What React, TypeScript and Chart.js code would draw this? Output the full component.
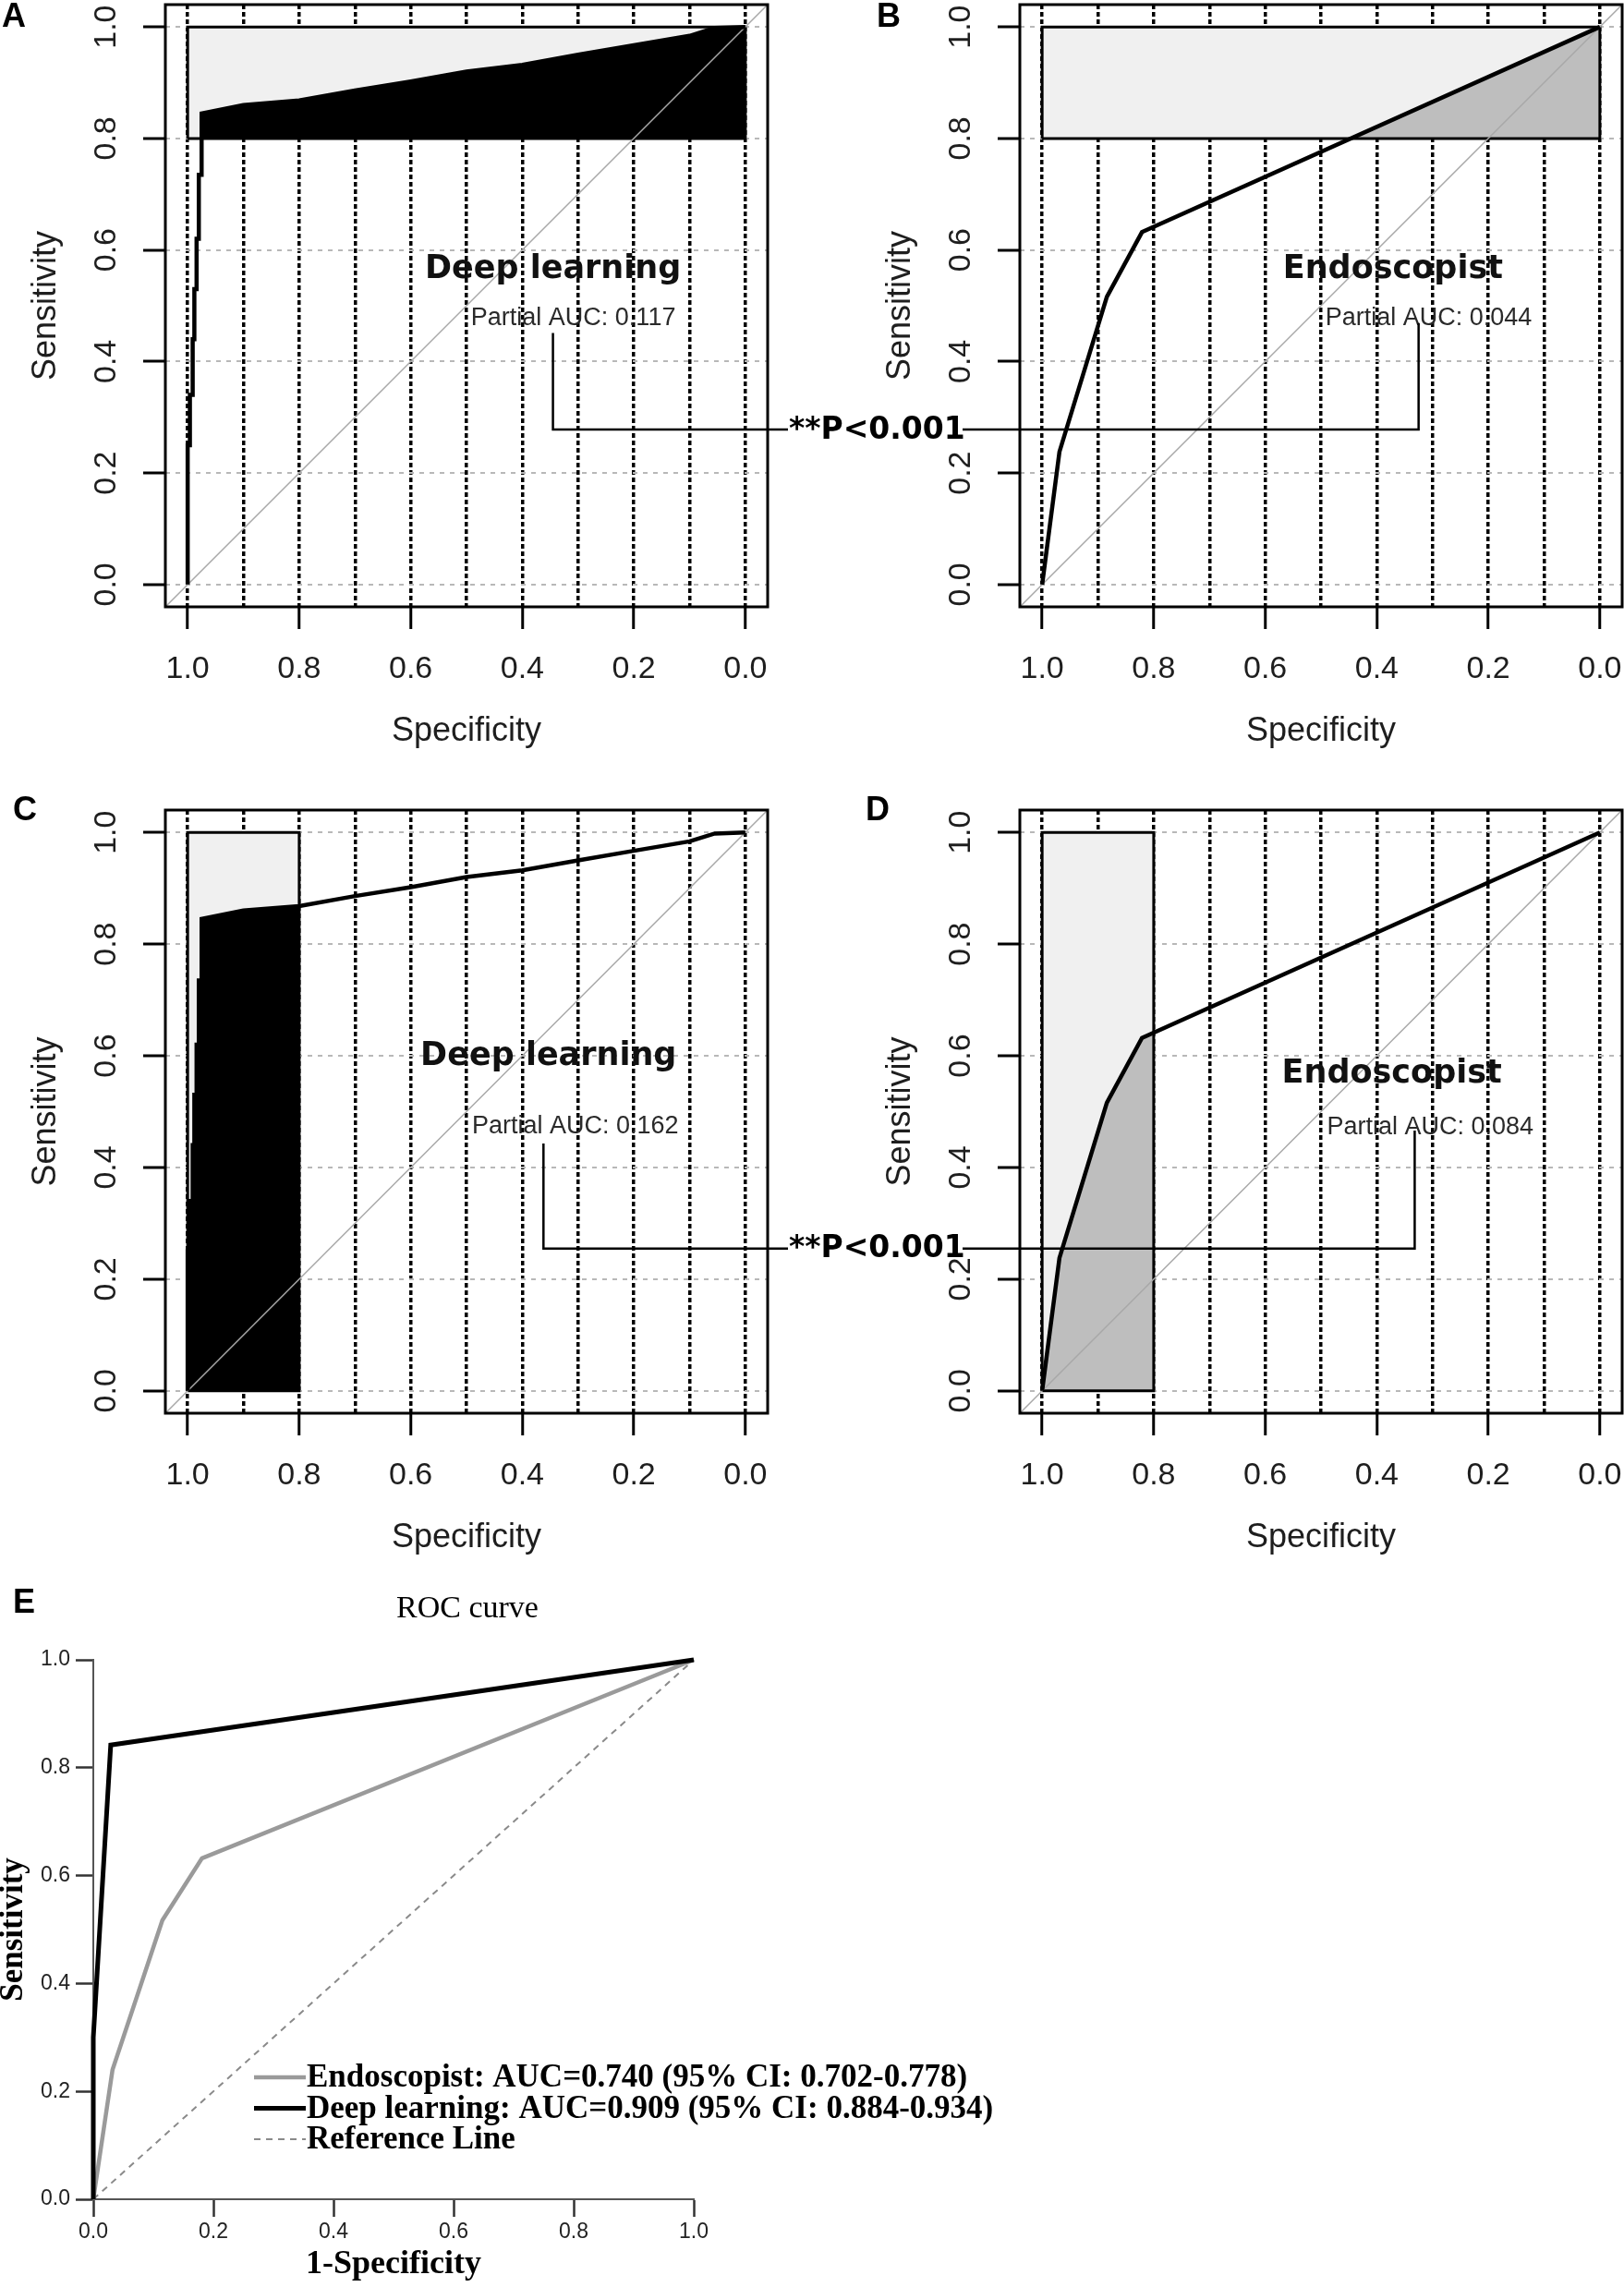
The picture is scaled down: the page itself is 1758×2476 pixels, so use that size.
import React, { useEffect, useRef } from 'react';
import { Chart, registerables } from 'chart.js';

Chart.register(...registerables);
Chart.defaults.font.family = '"Liberation Sans", Arial, sans-serif';

// ---------------- data (panels A-D, pROC style, x = specificity) ----------------
const SPEC_GRID = [1.0, 0.9, 0.8, 0.7, 0.6, 0.5, 0.4, 0.3, 0.2, 0.1, 0.0];
const SENS_TICKS = [0.0, 0.2, 0.4, 0.6, 0.8, 1.0];
const AXIS_LIMITS = [-0.04, 1.04];

const DL_SPEC = [1.0, 1.0, 0.996, 0.996, 0.991, 0.991, 0.988, 0.988, 0.984, 0.984, 0.98, 0.98, 0.975, 0.975, 0.9, 0.8, 0.7, 0.6, 0.5, 0.4, 0.3, 0.2, 0.1, 0.055, 0.0];
const DL_SENS = [0.0, 0.25, 0.25, 0.34, 0.34, 0.44, 0.44, 0.53, 0.53, 0.62, 0.62, 0.735, 0.735, 0.845, 0.86, 0.868, 0.886, 0.902, 0.92, 0.932, 0.95, 0.967, 0.984, 0.998, 1.0];
const ENDO_SPEC = [1.0, 0.969, 0.884, 0.821, 0.0];
const ENDO_SENS = [0.0, 0.238, 0.516, 0.632, 1.0];

const PAUC_RANGE = [0.8, 1.0];
const DL_SPEC_AT_SENS_LO = 0.975;
const ENDO_SPEC_AT_SENS_LO = 0.445;
const DL_SENS_AT_SPEC_LO = 0.868;
const ENDO_SENS_AT_SPEC_LO = 0.64;

const PARTIAL_AUC = ['0.117', '0.044', '0.162', '0.084'];
const CURVE_NAMES = ['Deep learning', 'Endoscopist'];
const P_VALUE = '**P<0.001';

// ---------------- data (panel E, x = 1 - specificity) ----------------
const E_TICKS = [0.0, 0.2, 0.4, 0.6, 0.8, 1.0];
const E_DL_FPR = [0.0, 0.0, 0.029, 1.0];
const E_DL_TPR = [0.0, 0.30, 0.842, 1.0];
const E_ENDO_FPR = [0.0, 0.032, 0.115, 0.181, 1.0];
const E_ENDO_TPR = [0.0, 0.240, 0.517, 0.632, 1.0];
const E_REF = [0.0, 1.0];
const E_LABELS = [
  'Deep learning: AUC=0.909 (95% CI: 0.884-0.934)',
  'Endoscopist: AUC=0.740 (95% CI: 0.702-0.778)',
  'Reference Line',
];
const E_LEGEND_ORDER = [1, 0, 2];

// ---------------- helpers ----------------
const pts = (xs: number[], ys: number[]) => xs.map((x, i) => ({ x, y: ys[i] }));
const isLabeled = (v: number) => Math.abs(Math.round(v * 10)) % 2 === 0;

function txt(ctx: any, s: string, x: number, y: number, font: string, color: string, align = 'center', baseline = 'middle') {
  ctx.save();
  ctx.font = font;
  ctx.fillStyle = color;
  ctx.textAlign = align;
  ctx.textBaseline = baseline;
  ctx.fillText(s, x, y);
  ctx.restore();
}

type Panel = {
  letter: string;
  letterPos: [number, number];
  focus: 'se' | 'sp';
  spec: number[];
  sens: number[];
  cross: number;
  fillColor: string;
  title: string;
  titleAt: [number, number];
  pauc: string;
  paucAt: [number, number];
  conn: { x: number; top: number; y: number; side: 'left' | 'right' };
  box: { left: number; top: number; width: number; height: number; padLeft: number; padTop: number; padRight: number };
};

const PANELS: Panel[] = [
  {
    letter: 'A', letterPos: [15, 19], focus: 'se', spec: DL_SPEC, sens: DL_SENS, cross: DL_SPEC_AT_SENS_LO,
    fillColor: '#000000', title: CURVE_NAMES[0], titleAt: [0.345, 0.564], pauc: PARTIAL_AUC[0], paucAt: [0.3085, 0.478],
    conn: { x: 0.345, top: 0.451, y: 0.278, side: 'right' },
    box: { left: 0, top: 0, width: 1100, height: 820, padLeft: 0, padTop: 5, padRight: 269 },
  },
  {
    letter: 'B', letterPos: [82, 19], focus: 'se', spec: ENDO_SPEC, sens: ENDO_SENS, cross: ENDO_SPEC_AT_SENS_LO,
    fillColor: '#bebebe', title: CURVE_NAMES[1], titleAt: [0.371, 0.565], pauc: PARTIAL_AUC[1], paucAt: [0.307, 0.478],
    conn: { x: 0.325, top: 0.469, y: 0.278, side: 'left' },
    box: { left: 880, top: 0, width: 878, height: 820, padLeft: 45, padTop: 5, padRight: 2 },
  },
  {
    letter: 'C', letterPos: [27, 58], focus: 'sp', spec: DL_SPEC, sens: DL_SENS, cross: DL_SENS_AT_SPEC_LO,
    fillColor: '#000000', title: CURVE_NAMES[0], titleAt: [0.353, 0.598], pauc: PARTIAL_AUC[2], paucAt: [0.305, 0.474],
    conn: { x: 0.362, top: 0.443, y: 0.255, side: 'right' },
    box: { left: 0, top: 820, width: 1100, height: 873, padLeft: 0, padTop: 57, padRight: 269 },
  },
  {
    letter: 'D', letterPos: [70, 58], focus: 'sp', spec: ENDO_SPEC, sens: ENDO_SENS, cross: ENDO_SENS_AT_SPEC_LO,
    fillColor: '#bebebe', title: CURVE_NAMES[1], titleAt: [0.373, 0.567], pauc: PARTIAL_AUC[3], paucAt: [0.304, 0.471],
    conn: { x: 0.332, top: 0.466, y: 0.255, side: 'left' },
    box: { left: 880, top: 820, width: 878, height: 873, padLeft: 45, padTop: 57, padRight: 2 },
  },
];

function rocAnnotations(p: Panel) {
  return {
    id: 'rocAnnotations',
    afterDraw(chart: any) {
      const { ctx, chartArea: a } = chart;
      const X = (v: number) => chart.scales.x.getPixelForValue(v);
      const Y = (v: number) => chart.scales.y.getPixelForValue(v);
      ctx.save();
      ctx.strokeStyle = '#000';
      ctx.lineWidth = 3;
      ctx.strokeRect(a.left, a.top, a.right - a.left, a.bottom - a.top);
      ctx.restore();
      txt(ctx, p.letter, p.letterPos[0], p.letterPos[1], 'bold 36px "Liberation Sans"', '#000');
      txt(ctx, p.title, X(p.titleAt[0]), Y(p.titleAt[1]), 'bold 35px "DejaVu Sans"', '#111');
      txt(ctx, 'Partial AUC: ' + p.pauc, X(p.paucAt[0]), Y(p.paucAt[1]), '27px "Liberation Sans"', '#2a2a2a');
      const cx = X(p.conn.x), cy = Y(p.conn.y), ct = Y(p.conn.top);
      const endX = p.conn.side === 'right' ? a.right + 22 : a.left - 62;
      ctx.save();
      ctx.strokeStyle = '#000';
      ctx.lineWidth = 2.5;
      ctx.beginPath();
      ctx.moveTo(cx, ct);
      ctx.lineTo(cx, cy);
      ctx.lineTo(endX, cy);
      ctx.stroke();
      ctx.restore();
      if (p.conn.side === 'right') txt(ctx, P_VALUE, endX + 1, cy + 1, 'bold 33px "DejaVu Sans"', '#000', 'left');
    },
  };
}

function rocConfig(p: Panel): any {
  const [lo, hi] = PAUC_RANGE;
  const [amin, amax] = AXIS_LIMITS;
  const curve = pts(p.spec, p.sens);
  let area: any[], rectTop: any[], outline: any[], fillTarget: any;
  if (p.focus === 'se') {
    area = [{ x: p.cross, y: lo }, ...curve.filter((q) => q.y > lo)];
    rectTop = [{ x: 1, y: hi }, { x: 0, y: hi }];
    outline = [{ x: 1, y: lo }, { x: 1, y: hi }, { x: 0, y: hi }, { x: 0, y: lo }, { x: 1, y: lo }];
    fillTarget = { value: lo };
  } else {
    area = [...curve.filter((q) => q.x > lo), { x: lo, y: p.cross }];
    rectTop = [{ x: hi, y: 1 }, { x: lo, y: 1 }];
    outline = [{ x: hi, y: 0 }, { x: hi, y: 1 }, { x: lo, y: 1 }, { x: lo, y: 0 }, { x: hi, y: 0 }];
    fillTarget = { value: 0 };
  }
  const line = (data: any[], extra: any) => ({ data, showLine: true, pointRadius: 0, tension: 0, borderCapStyle: 'butt', borderJoinStyle: 'miter', ...extra });
  const datasets = [
    line(curve, { borderColor: '#000', borderWidth: 4.5, order: 1, fill: false }),
    line([{ x: amax, y: amin }, { x: amin, y: amax }], { borderColor: '#a8a8a8', borderWidth: 1.5, order: 2, fill: false }),
    line(outline, { borderColor: '#000', borderWidth: 3, order: 3, fill: false }),
    line(area, { borderWidth: 0, borderColor: 'rgba(0,0,0,0)', backgroundColor: p.fillColor, fill: fillTarget, order: 4 }),
    line(rectTop, { borderWidth: 0, borderColor: 'rgba(0,0,0,0)', backgroundColor: '#f0f0f0', fill: fillTarget, order: 5 }),
  ];
  const zeroPad = (s: any) => { s.paddingLeft = 0; s.paddingRight = 0; s.paddingTop = 0; s.paddingBottom = 0; };
  return {
    type: 'scatter',
    data: { datasets },
    options: {
      responsive: false,
      animation: false,
      devicePixelRatio: 1,
      events: [],
      layout: { autoPadding: false, padding: { left: p.box.padLeft, top: p.box.padTop, right: p.box.padRight, bottom: 0 } },
      plugins: { legend: { display: false }, tooltip: { enabled: false }, title: { display: false } },
      scales: {
        x: {
          type: 'linear', reverse: true, min: amin, max: amax,
          afterBuildTicks: (s: any) => { s.ticks = SPEC_GRID.map((v) => ({ value: v })); },
          afterFit: (s: any) => { s.height = 163; zeroPad(s); },
          ticks: {
            autoSkip: false, minRotation: 0, maxRotation: 0, padding: 23.6, color: '#1e1e1e', font: { size: 34 },
            callback: (v: any) => (isLabeled(Number(v)) ? Number(v).toFixed(1) : ''),
          },
          grid: {
            color: '#000', lineWidth: 3.5, drawTicks: true, tickLength: 24, tickWidth: 3,
            tickColor: (c: any) => (c.tick && isLabeled(c.tick.value) ? '#000' : 'rgba(0,0,0,0)'),
          },
          border: { display: false, dash: [5, 3] },
          title: { display: true, text: 'Specificity', color: '#1e1e1e', font: { size: 36, lineHeight: 1.2 }, padding: { top: 0, bottom: 6.4 } },
        },
        y: {
          type: 'linear', min: amin, max: amax,
          afterBuildTicks: (s: any) => { s.ticks = SENS_TICKS.map((v) => ({ value: v })); },
          afterFit: (s: any) => { s.width = 179; zeroPad(s); },
          ticks: {
            autoSkip: false, minRotation: 90, maxRotation: 90, crossAlign: 'center', padding: 16, color: '#1e1e1e', font: { size: 34 },
            callback: (v: any) => Number(v).toFixed(1),
          },
          grid: { color: '#b8b8b8', lineWidth: 2, drawTicks: true, tickLength: 24, tickWidth: 3, tickColor: '#000' },
          border: { display: false, dash: [5, 6] },
          title: { display: true, text: 'Sensitivity', color: '#1e1e1e', font: { size: 36, lineHeight: 1.2 }, padding: { top: 28.4, bottom: 0 } },
        },
      },
    },
    plugins: [rocAnnotations(p)],
  };
}

const E_BOX = { left: -10, top: 1700, width: 1110, height: 776 };

const eAnnotations = {
  id: 'eAnnotations',
  afterDraw(chart: any) {
    const { ctx } = chart;
    txt(ctx, 'E', 36, 36, 'bold 36px "Liberation Sans"', '#000');
    txt(ctx, 'ROC curve', 516, 42, '34px "Liberation Serif"', '#000');
    E_LEGEND_ORDER.forEach((di, k) => {
      const ds = chart.data.datasets[di];
      const y = 549 + k * 33.5;
      ctx.save();
      ctx.strokeStyle = ds.borderColor;
      ctx.lineWidth = ds.borderWidth;
      ctx.setLineDash(ds.borderDash || []);
      ctx.beginPath();
      ctx.moveTo(285, y);
      ctx.lineTo(341, y);
      ctx.stroke();
      ctx.restore();
      txt(ctx, ds.label, 342, y + 1, 'bold 35px "Liberation Serif"', '#000', 'left');
    });
  },
};

function eConfig(): any {
  const datasets = [
    { label: E_LABELS[0], data: pts(E_DL_FPR, E_DL_TPR), borderColor: '#000000', borderWidth: 5, order: 1 },
    { label: E_LABELS[1], data: pts(E_ENDO_FPR, E_ENDO_TPR), borderColor: '#9a9a9a', borderWidth: 4.5, order: 2 },
    { label: E_LABELS[2], data: pts(E_REF, E_REF), borderColor: '#8a8a8a', borderWidth: 2, borderDash: [7, 6], order: 3 },
  ].map((d) => ({ ...d, showLine: true, pointRadius: 0, tension: 0, clip: 8, fill: false, borderJoinStyle: 'miter' }));
  const zeroPad = (s: any) => { s.paddingLeft = 0; s.paddingRight = 0; s.paddingTop = 0; s.paddingBottom = 0; };
  const common = (title: string, size: number, padding: any) => ({
    type: 'linear', min: 0, max: 1,
    afterBuildTicks: (s: any) => { s.ticks = E_TICKS.map((v) => ({ value: v })); },
    grid: { drawOnChartArea: false, drawTicks: true, tickLength: 19, tickWidth: 2.5, tickColor: '#333' },
    border: { display: true, color: '#555', width: 2 },
    title: { display: true, text: title, color: '#000', font: { family: '"Liberation Serif"', size, weight: 'bold', lineHeight: 1.2 }, padding },
  });
  return {
    type: 'scatter',
    data: { datasets },
    options: {
      responsive: false,
      animation: false,
      devicePixelRatio: 1,
      events: [],
      layout: { autoPadding: false, padding: { left: 0, top: 97, right: 349, bottom: 0 } },
      plugins: { legend: { display: false }, tooltip: { enabled: false }, title: { display: false } },
      scales: {
        x: {
          ...common('1-Specificity', 36, { top: 0, bottom: 2.4 }),
          afterFit: (s: any) => { s.height = 95; zeroPad(s); },
          ticks: { autoSkip: false, maxRotation: 0, minRotation: 0, padding: 3, color: '#222', font: { size: 23 }, callback: (v: any) => Number(v).toFixed(1) },
        },
        y: {
          ...common('Sensitivity', 35, { top: 4, bottom: 0 }),
          afterFit: (s: any) => { s.width = 111; zeroPad(s); },
          ticks: { autoSkip: false, padding: 6, color: '#222', font: { size: 23 }, callback: (v: any) => Number(v).toFixed(1) },
        },
      },
    },
    plugins: [eAnnotations],
  };
}

export default function App() {
  const refs = [useRef<HTMLCanvasElement>(null), useRef<HTMLCanvasElement>(null), useRef<HTMLCanvasElement>(null), useRef<HTMLCanvasElement>(null)];
  const refE = useRef<HTMLCanvasElement>(null);

  useEffect(() => {
    const charts: Chart[] = [];
    PANELS.forEach((p, i) => {
      const c = refs[i].current;
      if (c) charts.push(new Chart(c, rocConfig(p)));
    });
    if (refE.current) charts.push(new Chart(refE.current, eConfig()));
    return () => charts.forEach((c) => c.destroy());
  }, []);

  const canvasStyle = (b: any, z: number): React.CSSProperties => ({
    position: 'absolute', left: b.left, top: b.top, width: b.width, height: b.height, display: 'block', zIndex: z,
  });
  const drawOrder = [1, 0, 3, 2];

  return (
    <div style={{ position: 'absolute', left: 0, top: 0, width: 1758, height: 2476, background: '#ffffff', overflow: 'hidden' }}>
      {drawOrder.map((i, k) => (
        <canvas key={i} ref={refs[i]} width={PANELS[i].box.width} height={PANELS[i].box.height} style={canvasStyle(PANELS[i].box, k + 1)} />
      ))}
      <canvas ref={refE} width={E_BOX.width} height={E_BOX.height} style={canvasStyle(E_BOX, 10)} />
    </div>
  );
}
